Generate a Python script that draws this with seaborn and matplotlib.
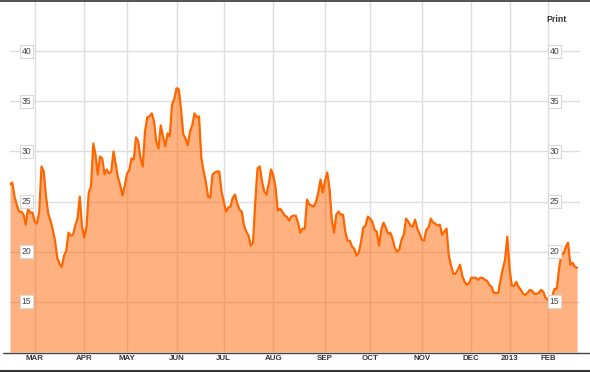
import numpy as np
import pandas as pd
import matplotlib
matplotlib.use("Agg")
import matplotlib.pyplot as plt
import seaborn as sns
from matplotlib.lines import Line2D

# Daily closing values (one per trading session, Feb 2012 - Feb 2013)
prices = [
    26.7, 26.9, 25.5, 24.7, 24.0, 24.0, 23.7, 22.7, 24.3, 23.9,
    23.9, 23.0, 22.8, 24.0, 28.5, 28.0, 25.5, 23.8, 23.1, 22.2,
    21.1, 19.4, 18.8, 18.5, 19.6, 20.1, 21.9, 21.6, 21.7, 22.6,
    23.3, 25.5, 22.5, 21.4, 22.5, 25.9, 26.5, 30.8, 29.7, 27.7,
    29.5, 29.3, 27.7, 28.2, 27.8, 28.0, 30.0, 28.7, 27.4, 26.6,
    25.6, 26.6, 27.8, 28.1, 29.3, 29.2, 31.4, 31.0, 29.3, 28.5,
    32.0, 33.4, 33.5, 33.8, 33.0, 31.0, 30.3, 32.6, 31.5, 30.5,
    31.8, 31.5, 34.7, 35.2, 36.3, 36.2, 34.2, 31.7, 31.3, 30.6,
    32.0, 32.6, 33.8, 33.4, 33.5, 29.4, 28.1, 27.0, 25.5, 25.4,
    27.7, 27.9, 28.0, 28.0, 26.0, 25.0, 24.0, 24.4, 24.5, 25.4,
    25.7, 24.8, 24.2, 24.0, 22.6, 22.0, 21.6, 20.6, 20.9, 25.0,
    28.3, 28.5, 27.0, 26.0, 25.7, 26.8, 28.2, 27.6, 26.4, 24.1,
    24.3, 24.0, 23.6, 23.5, 23.1, 23.5, 23.6, 23.6, 22.9, 21.9,
    22.3, 22.3, 25.2, 24.7, 24.6, 24.5, 25.0, 25.9, 27.2, 25.9,
    27.1, 27.9, 26.3, 23.2, 21.9, 23.7, 24.0, 23.7, 23.7, 22.0,
    21.1, 21.1, 20.5, 20.3, 19.6, 19.9, 21.0, 22.4, 22.6, 23.5,
    23.3, 23.0, 22.2, 22.0, 20.6, 22.2, 22.9, 22.4, 21.8, 21.9,
    21.3, 20.4, 20.0, 20.2, 21.2, 21.7, 23.3, 23.0, 22.6, 22.5,
    23.2, 22.3, 21.8, 21.2, 21.1, 22.2, 22.4, 23.3, 22.9, 22.8,
    22.6, 22.7, 21.7, 22.0, 22.3, 19.6, 18.6, 17.8, 17.8, 18.2,
    18.7, 17.6, 17.0, 16.7, 16.9, 17.4, 17.4, 17.4, 17.2, 17.4,
    17.4, 17.2, 17.1, 16.7, 16.5, 15.9, 15.9, 15.9, 17.2, 18.3,
    19.2, 21.5, 18.3, 16.6, 16.6, 17.0, 16.5, 16.2, 15.8, 15.7,
    15.9, 16.2, 16.1, 15.8, 15.8, 15.9, 16.2, 16.0, 15.4, 15.2,
    15.3, 15.6, 16.3, 16.3, 18.3, 19.8, 19.8, 20.5, 20.9, 18.7,
    18.9, 18.5, 18.4,
]

# Session index at which each month starts, and its label
month_starts = [11, 33, 52, 74, 95, 117, 140, 160, 183, 205, 222, 239]
month_labels = ["MAR", "APR", "MAY", "JUN", "JUL", "AUG", "SEP", "OCT",
                "NOV", "DEC", "2013", "FEB"]
y_ticks = [15, 20, 25, 30, 35, 40]

df = pd.DataFrame({"session": np.arange(len(prices)), "price": prices})

sns.set_style("white")
plt.rcParams['font.family'] = ['Liberation Sans', 'DejaVu Sans']

W, H = 590, 372
fig = plt.figure(figsize=(W / 100, H / 100), dpi=100)
ax = fig.add_axes([10 / W, 1 - 352 / H, 570 / W, 351 / H])
ax.set_xlim(0, 253.3)
ax.set_ylim(10, 45)
for s in ax.spines.values():
    s.set_visible(False)

ax.set_yticks(y_ticks)
ax.set_yticklabels([])
ax.set_xticks(month_starts)
ax.set_xticklabels(month_labels)
ax.tick_params(axis='y', length=0, pad=0)
ax.tick_params(axis='x', length=0, pad=2.5, labelsize=5.7, labelcolor='#333333')
for lbl in ax.get_xticklabels():
    lbl.set_fontweight('bold')
ax.grid(True, color='#dedede', lw=1.0)
ax.set_axisbelow(True)

ax.fill_between(df["session"], 10, df["price"], color='#ff6600', alpha=0.5,
                lw=0, zorder=2)
sns.lineplot(data=df, x='session', y='price', ax=ax, color='#ff6600',
             lw=1.6, zorder=3)
ax.set_xlabel('')
ax.set_ylabel('')

for v in y_ticks:
    for xf in (0.029, 0.955):
        ax.text(xf, v, str(v), transform=ax.get_yaxis_transform(),
                ha='center', va='center', fontsize=6.2, color='#444444',
                bbox=dict(boxstyle='square,pad=0.22', fc='white',
                          ec='#d8d8d8', lw=0.8), zorder=5)

fig.text(556.7 / W, 1 - 19 / H, 'Print', ha='center', va='center',
         fontsize=6.3, fontweight='bold', color='#333333')
fig.add_artist(Line2D([0, 1], [1 - 0.7 / H] * 2, color='#333333', lw=1.2))
fig.add_artist(Line2D([3 / W, 1], [1 - 352.5 / H] * 2, color='#444444', lw=1))
fig.add_artist(Line2D([0, 1], [1 - 371 / H] * 2, color='#333333', lw=1.5))

fig.savefig('out.png', dpi=100)
